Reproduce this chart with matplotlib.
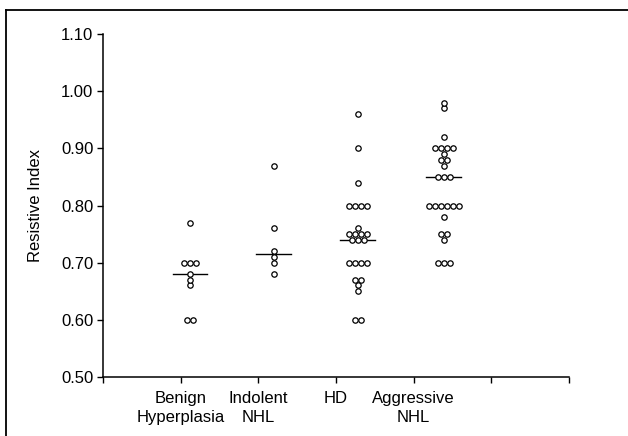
import numpy as np
import matplotlib
matplotlib.use("Agg")
import matplotlib.pyplot as plt
from matplotlib.lines import Line2D

plt.rcParams['font.family'] = ['Liberation Sans', 'DejaVu Sans']

categories = ["Benign\nHyperplasia", "Indolent\nNHL", "HD", "Aggressive\nNHL"]

benign = [0.77, 0.70, 0.70, 0.70, 0.68, 0.67, 0.66, 0.60, 0.60]
indolent = [0.87, 0.76, 0.72, 0.71, 0.70, 0.68]
hd = [0.96, 0.90, 0.84, 0.80, 0.80, 0.80, 0.80, 0.76, 0.75, 0.75, 0.75, 0.75,
      0.74, 0.74, 0.74, 0.70, 0.70, 0.70, 0.70, 0.67, 0.67, 0.66, 0.65, 0.60, 0.60]
aggressive = [0.98, 0.97, 0.92, 0.90, 0.90, 0.90, 0.90, 0.89, 0.88, 0.88, 0.87,
              0.85, 0.85, 0.85, 0.80, 0.80, 0.80, 0.80, 0.80, 0.80, 0.78,
              0.75, 0.75, 0.74, 0.70, 0.70, 0.70]

groups = [benign, indolent, hd, aggressive]

y_ticks = [0.50, 0.60, 0.70, 0.80, 0.90, 1.00, 1.10]
y_ticklabels = ["0.50", "0.60", "0.70", "0.80", "0.90", "1.00", "1.10"]

W, H = 628, 436
fig = plt.figure(figsize=(W / 100, H / 100), dpi=100)
ax = fig.add_axes([103 / W, 1 - 376.7 / H, (569 - 103) / W, (376.7 - 34.3) / H])

# figure border (left and top visible)
fig.add_artist(Line2D([6 / W, 6 / W], [0, 1 - 10 / H], transform=fig.transFigure,
                      color='black', lw=1.3))
fig.add_artist(Line2D([6 / W, 1], [1 - 10 / H, 1 - 10 / H], transform=fig.transFigure,
                      color='black', lw=1.3))

tick_pos = np.arange(1, 5)
point_shift = np.array([0.12, 0.20, 0.28, 0.39])
spacing = 0.077
half_line = 0.225

for i, vals in enumerate(groups):
    cx = tick_pos[i] + point_shift[i]
    vals = np.array(vals)
    xs, ys = [], []
    for v in np.unique(vals):
        n = int(np.sum(np.isclose(vals, v)))
        for k in range(n):
            xs.append(cx + (k - (n - 1) / 2) * spacing)
            ys.append(v)
    med = np.median(vals)
    ax.plot([cx - half_line, cx + half_line], [med, med], color='black', lw=1.0, zorder=2)
    ax.scatter(xs, ys, s=15, facecolors='white', edgecolors='black', linewidths=0.9, zorder=3)

ax.set_xlim(0, 6)
ax.set_ylim(0.50, 1.10)
ax.set_xticks(np.arange(0, 7))
ax.set_xticklabels([""] + categories + ["", ""], fontsize=12, linespacing=1.4)
ax.set_yticks(y_ticks)
ax.set_yticklabels(y_ticklabels, fontsize=12)
ax.set_ylabel("Resistive Index", fontsize=12, labelpad=13)

ax.spines['top'].set_visible(False)
ax.spines['right'].set_visible(False)
for s in ['left', 'bottom']:
    ax.spines[s].set_linewidth(1.1)
ax.tick_params(axis='both', direction='out', length=4, width=1.0, pad=3)
ax.tick_params(axis='x', pad=6)

fig.savefig("out.png", dpi=100)
